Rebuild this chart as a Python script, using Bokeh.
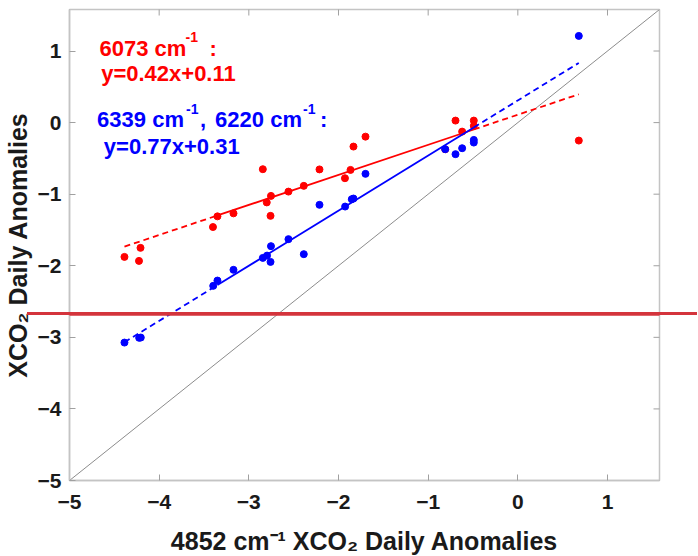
import math
from bokeh.plotting import figure
from bokeh.models import Label, Arrow, FixedTicker, Range1d, InlineStyleSheet
from bokeh.embed import file_html
from bokeh.resources import INLINE

# ---- data ----
red_x = [-4.387, -4.208, -4.225, -3.400, -3.350, -3.171, -2.844, -2.800, -2.753, -2.758,
         -2.558, -2.387, -2.212, -1.928, -1.866, -1.833, -1.699, -0.810, -0.695, -0.621,
         -0.491, -0.491, 0.680]
red_y = [-1.876, -1.750, -1.932, -1.459, -1.310, -1.268, -0.651, -1.115, -1.024, -1.303,
         -0.964, -0.884, -0.654, -0.777, -0.661, -0.335, -0.196, -0.372, 0.028, -0.126,
         0.028, -0.046, -0.251]
blue_x = [-4.387, -4.223, -4.205, -3.397, -3.350, -3.171, -2.844, -2.797, -2.753, -2.758,
          -2.558, -2.387, -2.212, -1.926, -1.852, -1.833, -1.699, -0.810, -0.695, -0.621,
          -0.491, -0.491, 0.680]
blue_y = [-3.073, -3.007, -3.003, -2.281, -2.207, -2.057, -1.890, -1.858, -1.726, -1.946,
          -1.628, -1.838, -1.149, -1.173, -1.070, -1.061, -0.716, -0.372, -0.441, -0.358,
          -0.279, -0.242, 1.211]

x_ticks = [-5, -4, -3, -2, -1, 0, 1]
y_ticks = [-5, -4, -3, -2, -1, 0, 1]
axis_min, axis_max = -5.0, 1.58

red_slope, red_icpt = 0.42, 0.11
blue_slope, blue_icpt = 0.77, 0.31
fit_x_min, fit_solid_lo, fit_solid_hi, fit_x_max = -4.387, -3.35, -0.491, 0.680

artifact_y = -2.676
artifact_x0, artifact_x1 = -5.39, 2.05

RED = "#ff0000"
BLUE = "#0000ff"
GRAY = "#c4c4c4"
STROKE = "#d4343c"
FONT = "Liberation Sans"

FW, FH = 590, 471
BL, BT, BR, BB = 62, 9, 38, 68

p = figure(frame_width=FW, frame_height=FH,
           x_range=Range1d(axis_min, axis_max), y_range=Range1d(axis_min, axis_max),
           output_backend="svg", toolbar_location=None,
           min_border_left=BL, min_border_right=BR, min_border_top=BT, min_border_bottom=BB)
p.xgrid.visible = False
p.ygrid.visible = False
p.outline_line_color = GRAY
p.outline_line_width = 1.5
p.background_fill_color = "white"
p.border_fill_color = "white"

# 1:1 diagonal
p.line([axis_min, axis_max], [axis_min, axis_max], line_color="#8c8c8c", line_width=1)

def fit_segments(slope, icpt, color):
    xs_l = [fit_x_min, fit_solid_lo]
    xs_m = [fit_solid_lo, fit_solid_hi]
    xs_r = [fit_solid_hi, fit_x_max]
    p.line(xs_l, [slope * x + icpt for x in xs_l], line_color=color, line_width=1.8, line_dash="6 4")
    p.line(xs_m, [slope * x + icpt for x in xs_m], line_color=color, line_width=1.8)
    p.line(xs_r, [slope * x + icpt for x in xs_r], line_color=color, line_width=1.8, line_dash="6 4")

p.scatter(red_x, red_y, size=7, fill_color=RED, line_color=RED)
fit_segments(red_slope, red_icpt, RED)
p.scatter(blue_x, blue_y, size=7, fill_color=BLUE, line_color=BLUE)
fit_segments(blue_slope, blue_icpt, BLUE)

# inward ticks on top and right edges (half of each dash is clipped by the frame)
p.scatter(x_ticks, [axis_max] * len(x_ticks), marker="dash", size=12, angle=math.pi / 2,
          line_color="#a0a0a0", line_width=1)
p.scatter([axis_max] * len(y_ticks), y_ticks, marker="dash", size=12,
          line_color="#a0a0a0", line_width=1)

# axes styling
def style_axis(ax, ticks):
    ax.ticker = FixedTicker(ticks=ticks)
    ax.axis_line_color = GRAY
    ax.axis_line_width = 1.5
    ax.major_tick_line_color = "#a0a0a0"
    ax.major_tick_in = 6
    ax.major_tick_out = 0
    ax.minor_tick_line_color = None
    ax.major_label_text_font = FONT
    ax.major_label_text_font_style = "bold"
    ax.major_label_text_font_size = "21px"
    ax.major_label_text_color = "#1a1a1a"
    ax.axis_label_text_font = FONT
    ax.axis_label_text_font_style = "bold"
    ax.axis_label_text_font_size = "25px"
    ax.axis_label_text_color = "#1a1a1a"

xa = p.xaxis[0]
ya = p.yaxis[0]
style_axis(xa, x_ticks)
style_axis(ya, y_ticks)
xa.major_label_standoff = 14
ya.major_label_standoff = 8
xa.axis_label = "4852 cm⁻¹ XCO₂ Daily Anomalies"
ya.axis_label = "XCO₂ Daily Anomalies"
xa.axis_label_standoff = 15
ya.axis_label_standoff = 3

# annotations (main text + raised superscripts)
def add_label(x, y, text, color, size="22px", dx=0, dy=0):
    p.add_layout(Label(x=x, y=y, x_offset=dx, y_offset=dy, text=text, text_color=color,
                       text_font=FONT, text_font_style="bold", text_font_size=size,
                       text_baseline="alphabetic", text_align="left"))

SUP = "14px"
add_label(-4.665, 1.039, "6073 cm", RED)
add_label(-4.665, 1.039, "-1", RED, SUP, dx=86, dy=11)
add_label(-4.665, 1.039, ":", RED, dx=110)
add_label(-4.647, 0.680, "y=0.42x+0.11", RED)

add_label(-4.692, 0.038, "6339 cm", BLUE)
add_label(-4.692, 0.038, "-1", BLUE, SUP, dx=89, dy=11)
add_label(-4.692, 0.038, ",", BLUE, dx=103)
add_label(-4.692, 0.038, "6220 cm", BLUE, dx=118)
add_label(-4.692, 0.038, "-1", BLUE, SUP, dx=206, dy=11)
add_label(-4.692, 0.038, ":", BLUE, dx=223)
add_label(-4.617, -0.335, "y=0.77x+0.31", BLUE)

# red horizontal stroke: inside the frame from data coords ...
p.add_layout(Arrow(start=None, end=None, x_start=artifact_x0, y_start=artifact_y,
                   x_end=artifact_x1, y_end=artifact_y,
                   line_color=STROKE, line_width=3, level="overlay"))
# ... and continued across the whole picture (outside the frame) with CSS,
# placed with the same data-to-pixel mapping as the frame
px_per_x = FW / (axis_max - axis_min)
px_per_y = FH / (axis_max - axis_min)
stroke_left = BL + (artifact_x0 - axis_min) * px_per_x
stroke_top = BT + (axis_max - artifact_y) * px_per_y - 1.5
p.stylesheets = [InlineStyleSheet(css=f"""
:host {{ position: relative; }}
:host::after {{
  content: ""; position: absolute; pointer-events: none;
  left: {stroke_left:.1f}px; right: 0px; top: {stroke_top:.1f}px; height: 3px;
  background: {STROKE};
}}
""")]

open("out.html", "w").write(file_html(p, INLINE))
